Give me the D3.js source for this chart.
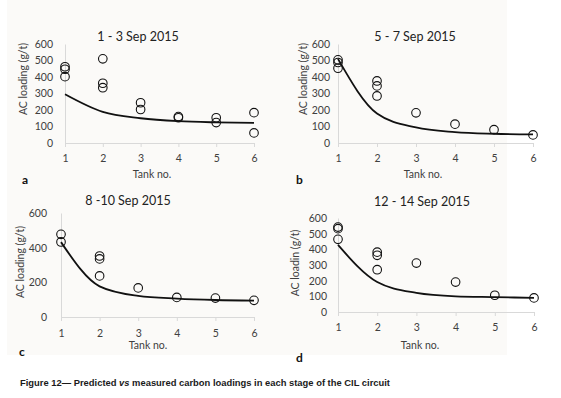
<!DOCTYPE html>
<html><head><meta charset="utf-8">
<script src="https://cdn.jsdelivr.net/npm/d3@7"></script>
<style>body{margin:0;background:#fff}svg{display:block}</style>
</head><body>
<svg id="c" width="561" height="398"></svg>
<script>
// ---- data ----
const tanks = [1, 2, 3, 4, 5, 6];
const titles = ["1 - 3 Sep 2015", "5 - 7 Sep 2015", "8 -10 Sep 2015", "12 - 14 Sep 2015"];
const panelLetters = ["a", "b", "c", "d"];
const yLabels = ["AC loading (g/t)", "AC loading (g/t)", "AC loading (g/t)", "AC loadin (g/t)"];
const yTicksA = [0, 100, 200, 300, 400, 500, 600];
const yTicksC = [0, 200, 400, 600];
// measured: [tank, value]
const measuredA = [[1,462],[1,447],[1,402],[2,510],[2,362],[2,335],[3,244],[3,203],[4,160],[4,153],[5,153],[5,124],[6,184],[6,61]];
const predictedA = [295, 188, 150, 132, 125, 122];
const measuredB = [[1,504],[1,488],[1,453],[2,376],[2,346],[2,285],[3,183],[4,114],[5,81],[6,49]];
const predictedB = [510, 179, 94, 66, 56, 52];
const measuredC = [[1,477],[1,433],[2,352],[2,335],[2,237],[3,168],[4,113],[5,109],[6,96]];
const predictedC = [432, 177, 122, 106, 98, 95];
const measuredD = [[1,542],[1,532],[1,464],[2,382],[2,362],[2,270],[3,312],[4,191],[5,107],[6,90]];
const predictedD = [428, 191, 122, 100, 95, 90];
const caption = "Figure 12\u2014 Predicted ";
const captionItalic = "vs";
const captionEnd = " measured carbon loadings in each stage of the CIL circuit";

// ---- layout ----
const panels = [
  {meas: measuredA, pred: predictedA, ticks: yTicksA, x0: 65, x1: 254, y0: 143, y1: 44, pad: 12,
   tx: 138, ty: 41, lx: 152, ly: 178, letX: 22, letY: 184, ylx: 23, yly: 79, tickY: 162},
  {meas: measuredB, pred: predictedB, ticks: yTicksA, x0: 338, x1: 533, y0: 143, y1: 44, pad: 8,
   tx: 415, ty: 41, lx: 423, ly: 178, letX: 296, letY: 184, ylx: 303, yly: 79, tickY: 162},
  {meas: measuredC, pred: predictedC, ticks: yTicksC, x0: 61, x1: 254, y0: 317, y1: 213, pad: 14,
   tx: 128, ty: 205, lx: 148, ly: 349, letX: 19, letY: 356, ylx: 20, yly: 262, tickY: 337},
  {meas: measuredD, pred: predictedD, ticks: yTicksA, x0: 338, x1: 534, y0: 312, y1: 218, pad: 11,
   tx: 422, ty: 206, lx: 420, ly: 349, letX: 296, letY: 362, ylx: 295, yly: 263, tickY: 331}
];

const svg = d3.select("#c");
svg.append("rect").attr("x", 7).attr("y", 0).attr("width", 500).attr("height", 355).attr("fill", "#fbfaf8");

const font = "Lato, 'Open Sans', sans-serif";
const txt = "#404040";
const fs = 10.5;

panels.forEach((p, i) => {
  const x = d3.scaleLinear().domain([1, 6]).range([p.x0, p.x1]);
  const y = d3.scaleLinear().domain([0, 600]).range([p.y0, p.y1]);
  const g = svg.append("g");

  // y axis
  const ya = g.append("g").attr("transform", `translate(${p.x0},0)`)
    .call(d3.axisLeft(y).tickValues(p.ticks).tickSize(0).tickPadding(p.pad));
  ya.select(".domain").attr("stroke", "#d9d9d9");
  ya.selectAll("text").attr("font-family", font).attr("font-size", fs).attr("fill", txt);

  // x axis
  const xa = g.append("g").attr("transform", `translate(0,${p.y0})`)
    .call(d3.axisBottom(x).tickValues(tanks).tickFormat(d3.format("d")).tickSize(4).tickSizeOuter(0).tickPadding(0));
  xa.select(".domain").attr("stroke", "#d9d9d9");
  xa.selectAll("line").attr("stroke", "#d9d9d9");
  xa.selectAll("text").attr("y", p.tickY - p.y0).attr("dy", null)
    .attr("font-family", font).attr("font-size", fs).attr("fill", txt);

  // predicted line
  const line = d3.line().x((d, k) => x(tanks[k])).y(d => y(d)).curve(d3.curveMonotoneX);
  g.append("path").datum(p.pred).attr("d", line).attr("fill", "none")
    .attr("stroke", "#111").attr("stroke-width", 1.8);

  // measured points
  g.selectAll("circle.m").data(p.meas).join("circle")
    .attr("cx", d => x(d[0])).attr("cy", d => y(d[1])).attr("r", 4.3)
    .attr("fill", "none").attr("stroke", "#111").attr("stroke-width", 1.1);

  // title
  g.append("text").attr("x", p.tx).attr("y", p.ty).attr("text-anchor", "middle")
    .attr("font-family", font).attr("font-size", 12.5).attr("fill", "#222").text(titles[i]);
  // x label
  g.append("text").attr("x", p.lx).attr("y", p.ly).attr("text-anchor", "middle")
    .attr("font-family", font).attr("font-size", fs).attr("fill", txt).text("Tank no.");
  // y label
  g.append("text").attr("transform", `translate(${p.ylx},${p.yly}) rotate(-90)`)
    .attr("text-anchor", "middle").attr("dy", "0.35em")
    .attr("font-family", font).attr("font-size", fs).attr("fill", txt).text(yLabels[i]);
  // panel letter
  g.append("text").attr("x", p.letX).attr("y", p.letY)
    .attr("font-family", font).attr("font-weight", "bold").attr("font-size", 12).attr("fill", "#111").text(panelLetters[i]);
});

const cap = svg.append("text").attr("x", 20).attr("y", 386)
  .attr("font-family", "'Liberation Sans Narrow', 'Arial Narrow', 'Liberation Sans', sans-serif")
  .attr("font-weight", "bold").attr("font-size", 9.5).attr("fill", "#1a1a1a")
  .attr("textLength", 370).attr("lengthAdjust", "spacingAndGlyphs");
cap.append("tspan").text(caption);
cap.append("tspan").attr("font-style", "italic").text(captionItalic);
cap.append("tspan").text(captionEnd);
</script>
</body></html>
